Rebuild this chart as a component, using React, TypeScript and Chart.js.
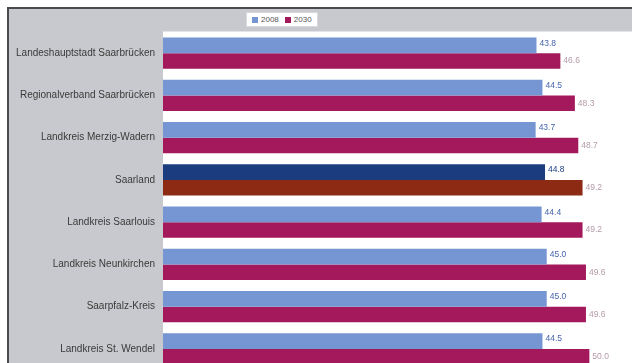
import React, { useEffect, useRef } from "react";
import { Chart, registerables } from "chart.js";

Chart.register(...registerables);

const categories = [
  "Landeshauptstadt Saarbrücken",
  "Regionalverband Saarbrücken",
  "Landkreis Merzig-Wadern",
  "Saarland",
  "Landkreis Saarlouis",
  "Landkreis Neunkirchen",
  "Saarpfalz-Kreis",
  "Landkreis St. Wendel",
];
const seriesNames = ["2008", "2030"];
const values2008 = [43.8, 44.5, 43.7, 44.8, 44.4, 45.0, 45.0, 44.5];
const values2030 = [46.6, 48.3, 48.7, 49.2, 49.2, 49.6, 49.6, 50.0];
const highlightIndex = 3;

const BLUE = "#7596d2";
const RED = "#a3195b";
const BLUE_HI = "#1c3c80";
const RED_HI = "#8c2a14";

const colorsFor = (base: string, hi: string) =>
  categories.map((_, i) => (i === highlightIndex ? hi : base));

const plotBg = {
  id: "plotBg",
  beforeDraw(chart: any) {
    const { ctx, chartArea } = chart;
    ctx.save();
    ctx.fillStyle = "#ffffff";
    ctx.fillRect(chartArea.left, chartArea.top, chartArea.right - chartArea.left, chartArea.bottom - chartArea.top);
    ctx.strokeStyle = "#e4e4e8";
    ctx.lineWidth = 1;
    ctx.beginPath();
    ctx.moveTo(chartArea.left, chartArea.top - 0.5);
    ctx.lineTo(chartArea.right, chartArea.top - 0.5);
    ctx.stroke();
    ctx.restore();
  },
};

const valueLabels = {
  id: "valueLabels",
  afterDatasetsDraw(chart: any) {
    const { ctx } = chart;
    ctx.save();
    ctx.font = "8.5px 'Liberation Sans', Arial, sans-serif";
    ctx.textBaseline = "middle";
    ctx.textAlign = "left";
    chart.data.datasets.forEach((ds: any, di: number) => {
      const meta = chart.getDatasetMeta(di);
      meta.data.forEach((bar: any, i: number) => {
        const v = ds.data[i];
        if (di === 0) ctx.fillStyle = i === highlightIndex ? "#1c3c80" : "#4664ae";
        else ctx.fillStyle = "#b39aa8";
        ctx.fillText(v.toFixed(1), bar.x + 3, bar.y - (di === 0 ? 2 : 0));
      });
    });
    ctx.restore();
  },
};

function ChartCanvas() {
  const ref = useRef<HTMLCanvasElement>(null);
  useEffect(() => {
    if (!ref.current) return;
    const chart = new Chart(ref.current, {
      type: "bar",
      data: {
        labels: categories,
        datasets: [
          {
            label: seriesNames[0],
            data: values2008,
            backgroundColor: colorsFor(BLUE, BLUE_HI),
            categoryPercentage: 0.74,
            barPercentage: 1.0,
          },
          {
            label: seriesNames[1],
            data: values2030,
            backgroundColor: colorsFor(RED, RED_HI),
            categoryPercentage: 0.74,
            barPercentage: 1.0,
          },
        ],
      },
      options: {
        indexAxis: "y",
        animation: false,
        responsive: false,
        maintainAspectRatio: false,
        layout: { padding: { top: 23, left: 0, right: 0, bottom: 0 } },
        plugins: {
          legend: { display: false },
          tooltip: { enabled: false },
        },
        scales: {
          x: {
            display: false,
            min: 0,
            max: 55,
            grid: { display: false },
          },
          y: {
            grid: { display: false },
            border: { display: false },
            ticks: {
              color: "#3a3a3a",
              font: { size: 10, family: "'Liberation Sans', Arial, sans-serif" },
              padding: 0,
            },
            afterFit(scale: any) {
              scale.width = 154;
            },
          },
        },
      },
      plugins: [plotBg, valueLabels],
    });
    return () => chart.destroy();
  }, []);
  return <canvas ref={ref} width={623} height={367} style={{ display: "block" }} />;
}

export default function App() {
  return (
    <div
      style={{
        position: "fixed",
        left: 0,
        top: 0,
        width: 632,
        height: 363,
        overflow: "hidden",
        background: "#ffffff",
      }}
    >
      <div
        style={{
          position: "absolute",
          left: 7,
          top: 7,
          width: 623,
          height: 400,
          background: "#c8c9ce",
          borderLeft: "2px solid #4a4a4e",
          borderTop: "2px solid #4a4a4e",
        }}
      >
        <ChartCanvas />
        <div
          style={{
            position: "absolute",
            left: 237,
            top: 3,
            background: "#ffffff",
            border: "1px solid #d8d8dc",
            padding: "2px 5px",
            display: "flex",
            alignItems: "center",
            gap: 3,
            font: "8px 'Liberation Sans', Arial, sans-serif",
            color: "#555",
          }}
        >
          <span style={{ display: "inline-block", width: 6, height: 6, background: BLUE }} />
          <span>{seriesNames[0]}</span>
          <span style={{ display: "inline-block", width: 6, height: 6, background: RED, marginLeft: 3 }} />
          <span>{seriesNames[1]}</span>
        </div>
      </div>
    </div>
  );
}
